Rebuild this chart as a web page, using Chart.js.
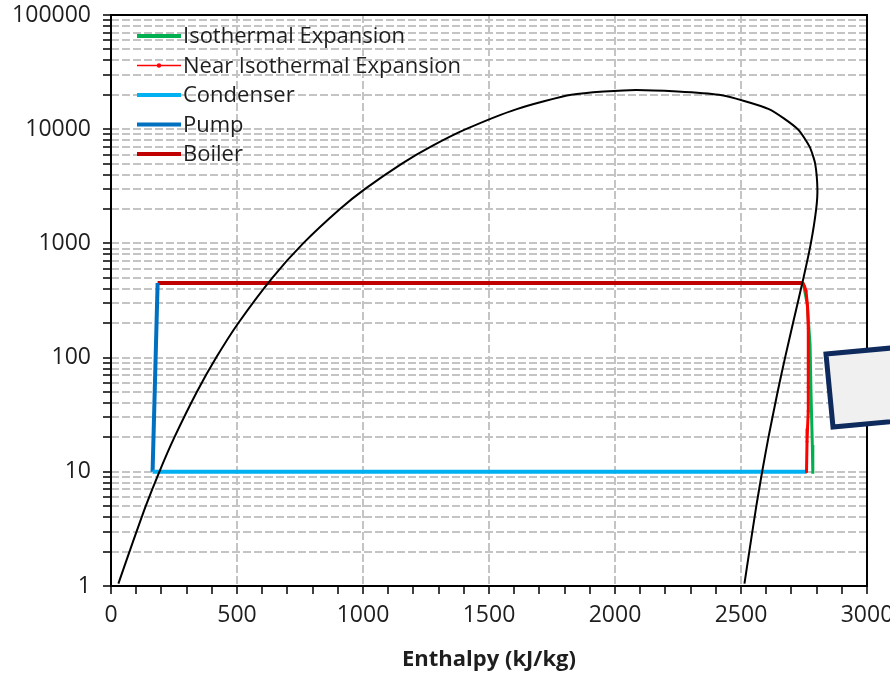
<!DOCTYPE html>
<html><head><meta charset="utf-8">
<script src="https://cdn.jsdelivr.net/npm/chart.js@4.4.1/dist/chart.umd.min.js"></script>
<style>html,body{margin:0;padding:0;background:#fff;}canvas{display:block;}</style>
</head><body>
<canvas id="c" width="890" height="675"></canvas>
<script>
// ---- Data (enthalpy kJ/kg, pressure kPa) ----
const domeH = [29.3, 73.4, 137.7, 191.8, 251.4, 340.5, 417.4, 504.7, 640.1, 762.5, 908.5, 1008.3, 1154.5, 1267.4, 1408.1, 1610.2, 1827.2, 2084.3,
               2412.3, 2610.7, 2725.5, 2772.6, 2794.2, 2803.2, 2798.3, 2777.1, 2748.1, 2706.2, 2674.9, 2645.2, 2608.9, 2583.9, 2560.7, 2532.9, 2513.7];
const domeP = [1.05, 2, 5, 10, 20, 50, 100, 200, 500, 1000, 2000, 3000, 5000, 7000, 10000, 15000, 20000, 22064,
               20000, 15000, 10000, 7000, 5000, 3000, 2000, 1000, 500, 200, 100, 50, 20, 10, 5, 2, 1.05];
const isoH = [2747, 2763, 2774, 2778, 2783, 2785];
const isoP = [450, 293, 130, 47, 17.2, 9.6];
const nearH = [2745, 2752, 2758, 2764, 2767, 2768, 2767, 2766, 2764, 2762, 2760];
const nearP = [450, 420, 383, 280, 180, 93, 55, 34, 24, 18.4, 10];
const condH = [2760, 165];
const condP = [10, 10];
const pumpH = [165, 185];
const pumpP = [10, 450];
const boilerH = [185, 2745];
const boilerP = [450, 450];
const seriesNames = ['Isothermal Expansion', 'Near Isothermal Expansion', 'Condenser', 'Pump', 'Boiler'];
const xTickLabels = [0, 500, 1000, 1500, 2000, 2500, 3000];
const yTickLabels = [1, 10, 100, 1000, 10000, 100000];
const yMinorMultipliers = [1, 2, 3, 4, 5, 6, 7, 8, 9];
const xTitle = 'Enthalpy (kJ/kg)';

const pts = (hs, ps) => hs.map((h, i) => ({x: h, y: ps[i]}));
const FONT = "'Open Sans', 'DejaVu Sans', sans-serif";
const GRID = '#c4c4c4';

const datasets = [
  {label: '_dome', order: 0, data: pts(domeH, domeP), borderColor: '#000', borderWidth: 2, pointRadius: 0, tension: 0.2, showLine: true},
  {label: seriesNames[0], order: 2, data: pts(isoH, isoP), borderColor: '#00b050', backgroundColor: '#00b050', borderWidth: 3, pointRadius: 0, showLine: true, legendWidth: 4},
  {label: seriesNames[1], order: 1, data: pts(nearH, nearP), borderColor: '#ff0000', backgroundColor: '#ff0000', borderWidth: 3, pointRadius: 1.5, pointBorderWidth: 0, showLine: true, legendWidth: 1.5, legendDot: true},
  {label: seriesNames[2], order: 3, data: pts(condH, condP), borderColor: '#00b0f0', backgroundColor: '#00b0f0', borderWidth: 4, pointRadius: 0, showLine: true, legendWidth: 4},
  {label: seriesNames[3], order: 3, data: pts(pumpH, pumpP), borderColor: '#0070c0', backgroundColor: '#0070c0', borderWidth: 4, pointRadius: 0, showLine: true, legendWidth: 4},
  {label: seriesNames[4], order: 3, data: pts(boilerH, boilerP), borderColor: '#c00000', backgroundColor: '#c00000', borderWidth: 4, pointRadius: 0, showLine: true, legendWidth: 4}
];

const yTicks = [];
for (let e = 0; e < yTickLabels.length - 1; e++) {
  yMinorMultipliers.forEach(m => yTicks.push(m * yTickLabels[e]));
}
yTicks.push(yTickLabels[yTickLabels.length - 1]);

const decor = {
  id: 'decor',
  beforeDatasetsDraw(chart) {
    const {ctx, chartArea: a} = chart;
    ctx.save();
    ctx.strokeStyle = '#000';
    ctx.lineWidth = 2;
    ctx.strokeRect(a.left, a.top, a.right - a.left, a.bottom - a.top);
    ctx.restore();
  },
  afterDatasetsDraw(chart) {
    const {ctx, chartArea: a} = chart;
    ctx.save();
    ctx.font = "22px " + FONT;
    ctx.textBaseline = 'middle';
    ctx.textAlign = 'left';
    let y = a.top + 21;
    chart.data.datasets.forEach(ds => {
      if (ds.label.startsWith('_')) return;
      const x1 = a.left + 26, x2 = a.left + 70;
      ctx.strokeStyle = ds.borderColor;
      ctx.lineWidth = ds.legendWidth;
      ctx.beginPath(); ctx.moveTo(x1, y); ctx.lineTo(x2, y); ctx.stroke();
      if (ds.legendDot) {
        ctx.fillStyle = ds.borderColor;
        ctx.beginPath(); ctx.arc((x1 + x2) / 2, y, 2.2, 0, Math.PI * 2); ctx.fill();
      }
      ctx.fillStyle = '#1e1e1e';
      ctx.fillText(ds.label, x2 + 2, y + 1);
      y += 29.5;
    });
    ctx.restore();
  },
  afterDraw(chart) {
    const {ctx} = chart;
    ctx.save();
    ctx.beginPath();
    ctx.moveTo(826, 354);
    ctx.lineTo(946, 343);
    ctx.lineTo(953, 416);
    ctx.lineTo(833, 427);
    ctx.closePath();
    ctx.fillStyle = '#f0f0f0';
    ctx.fill();
    ctx.lineWidth = 5;
    ctx.strokeStyle = '#0f2a5c';
    ctx.stroke();
    ctx.restore();
  }
};

new Chart(document.getElementById('c'), {
  type: 'scatter',
  data: {datasets},
  plugins: [decor],
  options: {
    responsive: false,
    animation: false,
    devicePixelRatio: 1,
    layout: {padding: {top: 15, right: 23, left: 0, bottom: 0}},
    plugins: {legend: {display: false}, tooltip: {enabled: false}},
    scales: {
      x: {
        type: 'linear', min: 0, max: 3000,
        ticks: {
          stepSize: 100, autoSkip: false, maxRotation: 0, padding: 8,
          color: '#1e1e1e', font: {family: FONT, size: 23},
          callback: v => xTickLabels.includes(v) ? String(v) : ''
        },
        grid: {
          color: c => (c.tick && xTickLabels.includes(c.tick.value)) ? GRID : 'rgba(0,0,0,0)',
          lineWidth: 2, tickColor: '#000', tickWidth: 1.5, tickLength: 8, tickBorderDash: []
        },
        border: {display: false, dash: [8, 3]},
        title: {display: true, text: xTitle, color: '#1e1e1e', font: {family: FONT, size: 22, weight: 'bold'}, padding: {top: 4, bottom: 2}},
        afterFit: s => { s.height = 89; s.paddingLeft = 0; s.paddingRight = 0; }
      },
      y: {
        type: 'logarithmic', min: 1, max: 100000,
        afterBuildTicks: s => { s.ticks = yTicks.map(v => ({value: v})); },
        ticks: {
          autoSkip: false, padding: 12,
          color: '#1e1e1e', font: {family: FONT, size: 23},
          callback: v => yTickLabels.includes(v) ? String(v) : ''
        },
        grid: {color: GRID, lineWidth: 2, tickColor: '#000', tickWidth: 1.5, tickLength: 8, tickBorderDash: []},
        border: {display: false, dash: [8, 3]},
        afterFit: s => { s.width = 111; s.paddingTop = 0; s.paddingBottom = 0; }
      }
    }
  }
});
</script>
</body></html>
